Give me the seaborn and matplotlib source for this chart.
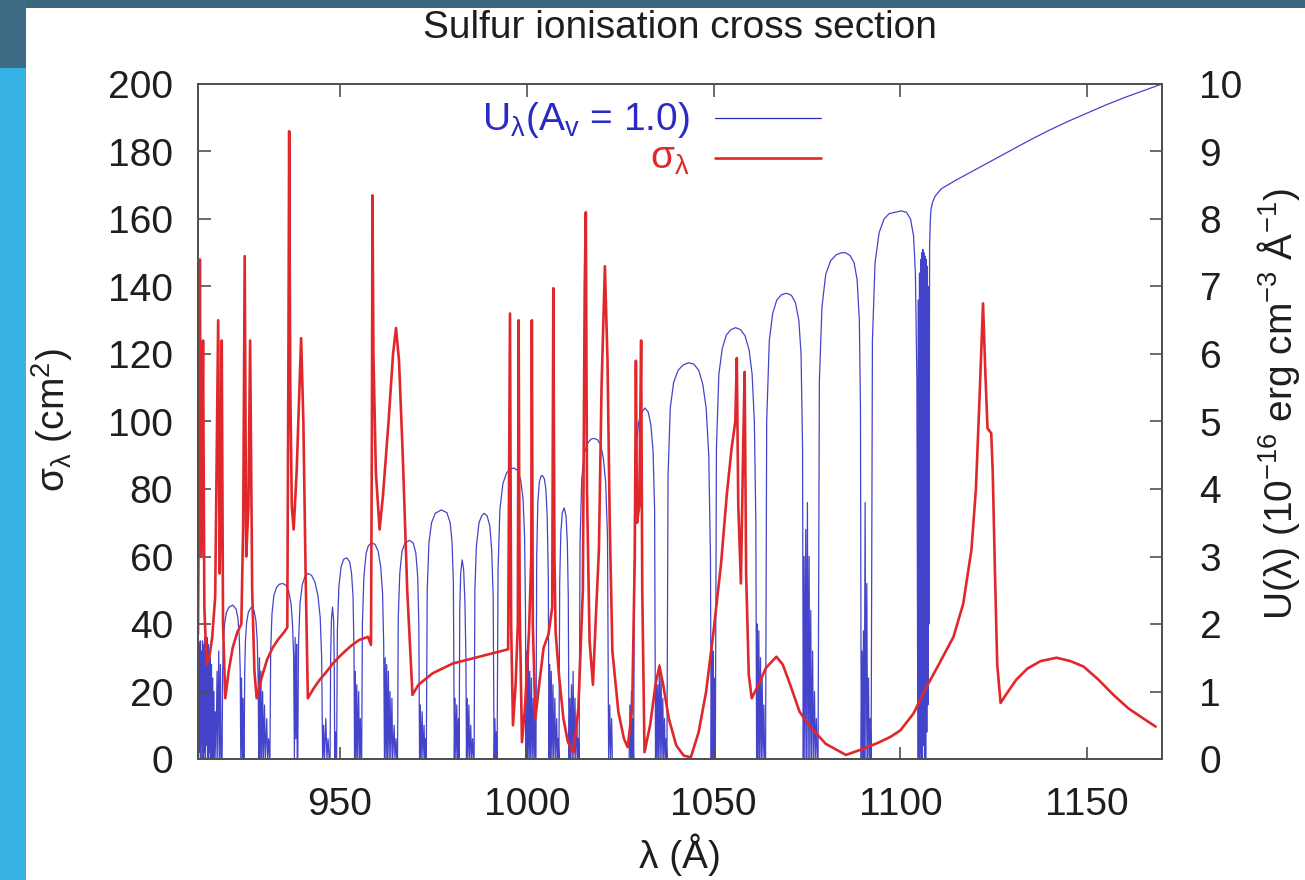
import matplotlib
matplotlib.use("Agg")
import matplotlib.pyplot as plt
from matplotlib.patches import Rectangle
import seaborn as sns

# ---------------- data ----------------
title = "Sulfur ionisation cross section"
x_ticks = [950, 1000, 1050, 1100, 1150]
sig_ticks = [0, 20, 40, 60, 80, 100, 120, 140, 160, 180, 200]
u_ticks = [0, 1, 2, 3, 4, 5, 6, 7, 8, 9, 10]

# sigma_lambda (left axis)
sig_x = [912.0, 912.3, 912.5, 912.8, 913.1, 913.35, 913.7, 914.3, 915.0, 915.8,
         916.6, 917.4, 917.8, 918.1, 918.35, 918.7, 919.3, 920.2, 921.3, 922.5,
         923.6, 924.1, 924.5, 924.9, 925.5, 925.95, 926.5, 927.1, 927.7, 929.0,
         930.5, 932.0, 933.5, 935.0, 935.9, 936.2, 936.4, 936.7, 937.1, 937.6,
         938.4, 939.0, 939.6, 940.2, 940.8, 941.4, 943.0, 944.6, 946.5, 948.1,
         950.0, 951.7, 953.5, 955.2, 957.5, 958.3, 958.55, 958.7, 958.95, 959.6,
         960.6, 961.5, 963.0, 964.2, 965.0, 965.8, 966.8, 968.0, 969.4, 971.0,
         974.8, 980.2, 987.3, 995.0, 995.3, 995.5, 995.8, 996.3, 997.0, 997.6,
         997.8, 998.1, 998.7, 999.5, 1000.6, 1001.2, 1001.35, 1001.6, 1002.3, 1003.3,
         1004.5, 1005.8, 1006.8, 1007.1, 1007.4, 1007.7, 1008.6, 1009.8, 1011.0, 1012.5,
         1013.8, 1015.0, 1015.5, 1015.8, 1016.1, 1016.8, 1017.7, 1018.6, 1019.3, 1020.0,
         1020.9, 1021.6, 1022.2, 1022.9, 1024.5, 1026.0, 1027.0, 1028.2, 1028.9, 1029.2,
         1029.5, 1030.1, 1030.6, 1030.9, 1031.5, 1033.0, 1034.5, 1035.5, 1036.5, 1038.0,
         1040.0, 1042.0, 1043.9, 1046.0, 1048.0, 1050.0, 1052.0, 1053.5, 1054.8, 1055.8,
         1056.2, 1056.6, 1057.3, 1057.9, 1058.3, 1058.7, 1059.4, 1060.2, 1062.0, 1064.0,
         1066.8, 1068.5, 1070.5, 1073.0, 1075.8, 1080.0, 1085.4, 1090.0, 1094.0, 1097.4,
         1100.0, 1103.5, 1107.0, 1110.5, 1114.2, 1116.8, 1119.0, 1120.2, 1121.2, 1122.1,
         1122.7, 1123.3, 1124.3, 1124.7, 1125.3, 1125.9, 1126.8, 1128.5, 1131.0, 1134.0,
         1137.5, 1141.8, 1145.5, 1149.0, 1153.0, 1157.0, 1161.0, 1165.0, 1168.3]
sig_y = [37, 90, 148, 60, 90, 124, 45, 28, 30, 36,
         48, 130, 55, 80, 124, 40, 18, 26, 33, 37.5,
         40, 70, 149, 60, 75, 124, 50, 26, 18, 24,
         29.5, 33, 35.5, 37.5, 39, 120, 186, 110, 75, 68,
         85, 105, 124.7, 100, 55, 18, 21, 23.5, 26, 28.3,
         30.5, 32.3, 34, 35.3, 36.2, 33.8, 100, 167, 120, 85,
         68, 78, 100, 120, 127.7, 118, 90, 50, 19, 22,
         25.4, 28.3, 30.3, 32.5, 90, 132, 40, 10, 22, 40,
         130, 45, 5, 15, 38, 60, 130, 40, 12, 22,
         33, 37, 45, 139.5, 60, 37.7, 25, 12, 5, 2,
         15, 50, 140, 162, 80, 35, 22, 45, 62, 110,
         146, 118, 70, 32, 14, 6, 3.5, 15, 60, 118,
         70, 75, 124, 50, 2, 10, 22.5, 27.5, 22, 12,
         4, 1, 0.5, 8, 20, 38, 58, 78, 92, 100,
         118.8, 75, 52, 92, 114.7, 55, 25, 18, 22, 27,
         30.3, 28, 22, 14, 9.6, 4.5, 1.2, 3.0, 4.8, 6.6,
         8.5, 13.5, 21.4, 28.5, 36.2, 46, 62, 80, 108, 135,
         115, 98, 96.5, 85, 55, 28, 16.6, 19.5, 23.5, 26.8,
         29, 30, 29, 27.4, 23.5, 19, 15, 12, 9.6]

# U_lambda (right axis), one line per stretch of the spectrum
u_x = [
    912.0, 912.15, 912.3, 912.45, 912.6, 912.75, 912.9, 913.05, 913.2, 913.35,
    913.5, 913.65, 913.8, 913.95, 914.1, 914.25, 914.4, 914.55, 914.7, 914.85,
    915.0, 915.15, 915.3, 915.45, 915.6, 915.75, 915.9, 916.05, 916.2, 916.35,
    916.6, 916.8, 917.1, 917.3, 917.55, 917.8, 918.0, 918.2,
    918.45, 918.6, 918.8, 919.1, 919.6, 920.3, 921.3, 922.2, 922.7, 923.05, 923.3, 923.45,
    923.65, 923.85, 924.05, 924.2,
    924.35, 924.5, 924.7, 925.0, 925.5, 926.3, 927.0, 927.5, 927.85, 928.1, 928.25,
    928.45, 928.65, 928.85, 929.05, 929.3, 929.5, 929.8, 930.0, 930.4, 930.6, 930.9, 931.1,
    931.25, 931.45, 931.8, 932.3, 933.0, 933.8, 934.7, 935.6, 936.3, 936.9, 937.3, 937.6, 937.8,
    938.0, 938.2, 938.4, 938.55,
    938.7, 938.9, 939.3, 939.9, 940.6, 941.4, 942.4, 943.3, 944.1, 944.7, 945.1, 945.35,
    945.6, 945.85, 946.2, 946.5, 946.8, 947.1,
    947.35, 947.5, 947.7, 948.0, 948.3, 948.45, 948.6,
    948.8, 948.95,
    949.1, 949.3, 949.7, 950.3, 951.0, 951.8, 952.6, 953.1, 953.5, 953.75, 953.9,
    954.1, 954.3, 954.5, 954.7, 955.0, 955.2, 955.45, 955.6,
    955.8, 956.0, 956.4, 957.0, 957.6, 958.4, 959.4, 960.2, 960.9, 961.4, 961.7, 961.9,
    962.1, 962.3, 962.5, 962.7, 962.95, 963.15, 963.4, 963.6, 963.9, 964.1, 964.5, 964.7, 965.0, 965.2,
    965.4, 965.6, 966.0, 966.6, 967.4, 968.6, 969.6, 970.3, 970.8, 971.1, 971.3,
    971.5, 971.7, 972.0, 972.2, 972.5, 972.7, 972.9,
    973.1, 973.35, 973.8, 974.5, 975.5, 977.1, 978.6, 979.5, 980.0, 980.35, 980.6,
    980.8, 981.0, 981.25, 981.45, 981.7,
    981.9, 982.05, 982.3, 982.7, 983.1, 983.45, 983.7, 983.85,
    984.05, 984.25, 984.5, 984.7, 985.0, 985.2, 985.5, 985.7,
    985.9, 986.1, 986.5, 987.2, 987.9, 988.6, 989.4, 990.1, 990.6, 991.0, 991.25,
    991.45, 991.65, 991.85,
    992.05, 992.3, 992.8, 993.6, 994.6, 995.6, 996.6, 997.6, 998.4, 999.0, 999.4, 999.65, 999.8,
    1000.0, 1000.2, 1000.4, 1000.6, 1000.8, 1001.0, 1001.25, 1001.45, 1001.7, 1001.9, 1002.15, 1002.3,
    1002.45, 1002.65, 1002.95, 1003.35, 1003.8, 1004.2, 1004.7, 1005.1, 1005.45, 1005.75, 1005.95,
    1006.15, 1006.35, 1006.55, 1006.75, 1007.0, 1007.2, 1007.5, 1007.7, 1008.0, 1008.2, 1008.4,
    1008.6, 1008.8, 1009.1, 1009.5, 1010.0, 1010.5, 1010.85, 1011.1, 1011.3,
    1011.5, 1011.7, 1011.95, 1012.15, 1012.4, 1012.6, 1012.9, 1013.1, 1013.4, 1013.6, 1013.8,
    1014.0, 1014.25, 1014.7, 1015.4, 1016.3, 1017.2, 1018.0, 1018.9, 1019.8, 1020.5, 1021.1, 1021.6, 1021.9,
    1022.2, 1022.4, 1022.7, 1022.9, 1027.4, 1027.6, 1027.8, 1028.0, 1028.2, 1028.4,
    1028.6, 1028.85, 1029.3, 1029.9, 1030.7, 1031.6, 1032.5, 1033.2, 1033.8, 1034.2, 1034.45,
    1034.65, 1034.85, 1035.05, 1035.25, 1035.5, 1035.7, 1035.95, 1036.15, 1036.4, 1036.6, 1036.85, 1037.05, 1037.3,
    1037.5, 1037.8, 1038.4, 1039.3, 1040.5, 1041.9, 1043.3, 1044.7, 1046.0, 1047.1, 1048.0, 1048.7, 1049.15, 1049.35,
    1049.55, 1049.7, 1049.85, 1050.0, 1050.15, 1050.3,
    1050.45, 1050.75, 1051.4, 1052.3, 1053.4, 1054.6, 1055.9, 1057.2, 1058.4, 1059.5, 1060.3, 1060.9, 1061.3, 1061.5,
    1061.7, 1061.9, 1062.1, 1062.3, 1062.55, 1062.75, 1063.0, 1063.2, 1063.45, 1063.65,
    1063.9, 1064.2, 1064.9, 1065.8, 1066.9, 1068.2, 1069.5, 1070.8, 1071.9, 1072.8, 1073.4, 1073.8, 1074.0,
    1074.2, 1074.4, 1074.65, 1074.85, 1075.1, 1075.3, 1075.55, 1075.75, 1076.0, 1076.2, 1076.5, 1076.7,
    1077.0, 1077.2, 1077.5, 1077.7,
    1077.95, 1078.3, 1079.0, 1080.0, 1081.3, 1082.8, 1084.2, 1085.3, 1086.5, 1087.6, 1088.4, 1089.0, 1089.3, 1089.5,
    1089.7, 1089.9, 1090.1, 1090.3, 1090.55, 1090.75, 1091.0, 1091.2, 1091.45, 1091.65, 1091.9,
    1092.15, 1092.5, 1093.2, 1094.3, 1095.6, 1097.0, 1098.6, 1100.2, 1101.6, 1102.7, 1103.5, 1104.0, 1104.4, 1104.65,
    1104.8, 1104.95, 1105.1, 1105.25, 1105.4, 1105.55, 1105.7, 1105.85, 1106.0, 1106.15,
    1106.3, 1106.45, 1106.6, 1106.75, 1106.9, 1107.05, 1107.2, 1107.35, 1107.5, 1107.65,
    1107.8, 1108.0, 1108.2, 1108.6, 1109.3, 1110.2, 1111.0, 1115.0, 1120.0, 1125.0,
    1130.0, 1135.0, 1140.0, 1145.0, 1150.0, 1155.0, 1160.0, 1165.0, 1170.0,
]
u_y = [
    1.2, 0, 1.7, 0.1, 1.75, 0, 1.6, 0.2, 1.75, 0,
    1.7, 0.1, 1.8, 0, 1.65, 0.2, 1.8, 0, 1.7, 0,
    1.6, 0.1, 1.5, 0, 1.4, 0, 1.2, 0, 1.0, 0,
    0.7, 0, 1.3, 0, 1.6, 0, 1.4, 0,
    0, 1.3, 1.75, 2.0, 2.17, 2.25, 2.28, 2.22, 2.08, 1.8, 1.3, 0,
    1.2, 0, 0.9, 0,
    0, 1.3, 1.75, 2.02, 2.18, 2.25, 2.2, 2.05, 1.75, 1.2, 0,
    1.5, 0, 1.3, 0, 1.0, 0, 0.8, 0, 0.6, 0, 0.3, 0,
    0, 1.6, 2.15, 2.42, 2.54, 2.59, 2.6, 2.57, 2.48, 2.3, 2.0, 1.5, 0,
    1.8, 0.3, 1.7, 0,
    0, 1.7, 2.3, 2.58, 2.7, 2.75, 2.72, 2.62, 2.42, 2.1, 1.5, 0,
    0.5, 0, 0.6, 0, 0.3, 0,
    0, 1.5, 2.05, 2.25, 2.05, 1.5, 0,
    0.4, 0,
    0, 1.9, 2.55, 2.85, 2.96, 2.98, 2.92, 2.75, 2.4, 1.6, 0,
    1.3, 0, 1.1, 0, 1.0, 0, 0.6, 0,
    0, 2.0, 2.7, 3.05, 3.16, 3.2, 3.18, 3.08, 2.85, 2.45, 1.7, 0,
    1.5, 0, 1.4, 0, 1.3, 0, 1.0, 0, 0.9, 0, 0.5, 0, 0.3, 0,
    0, 2.1, 2.75, 3.08, 3.2, 3.24, 3.2, 3.05, 2.7, 2.0, 0,
    0.8, 0, 0.7, 0, 0.5, 0, 0.3,
    0, 2.5, 3.2, 3.5, 3.64, 3.69, 3.65, 3.5, 3.2, 2.6, 0,
    0.9, 0, 0.8, 0, 0.6,
    0, 2.2, 2.75, 2.95, 2.8, 2.3, 1.5, 0,
    0.9, 0, 0.8, 0, 0.5, 0, 0.3, 0,
    0, 2.5, 3.15, 3.5, 3.6, 3.64, 3.6, 3.45, 3.1, 2.4, 0,
    0.6, 0, 0.4,
    0, 2.8, 3.7, 4.08, 4.24, 4.3, 4.31, 4.27, 4.12, 3.85, 3.3, 2.2, 0,
    1.6, 0, 1.5, 0, 1.3, 0, 1.2, 0, 0.9, 0, 0.6, 0,
    0, 3.0, 3.8, 4.1, 4.19, 4.2, 4.15, 4.0, 3.6, 2.7, 0,
    1.4, 0, 1.3, 0, 1.1, 0, 0.9, 0, 0.6, 0, 0.3,
    0, 2.6, 3.35, 3.65, 3.72, 3.6, 3.2, 2.4, 0,
    0.9, 0, 1.1, 0, 1.3, 0, 0.9, 0, 0.6, 0, 0.3,
    0, 3.2, 4.15, 4.53, 4.68, 4.74, 4.75, 4.73, 4.65, 4.45, 4.1, 3.3, 0,
    0.8, 0, 0.6, 0, 0, 0.8, 0, 1.0, 0, 0.6,
    0, 3.7, 4.6, 4.98, 5.13, 5.2, 5.14, 4.95, 4.55, 3.7, 0,
    1.2, 0, 1.1, 0, 1.4, 0, 1.2, 0, 0.9, 0, 0.6, 0, 0.3,
    0, 4.2, 5.2, 5.58, 5.76, 5.84, 5.87, 5.85, 5.76, 5.55, 5.2, 4.5, 3.0, 0,
    1.7, 0, 1.6, 0, 1.2, 0,
    0, 4.6, 5.7, 6.08, 6.28, 6.36, 6.39, 6.36, 6.27, 6.06, 5.7, 5.0, 3.5, 0,
    2.0, 0, 1.9, 0, 1.5, 0, 1.2, 0, 0.8, 0,
    0, 5.0, 6.2, 6.6, 6.8, 6.88, 6.9, 6.87, 6.76, 6.5, 6.0, 4.6, 0,
    3.0, 0, 3.4, 0, 3.8, 0, 3.0, 0, 2.2, 0, 1.6, 0,
    1.0, 0, 0.6, 0,
    0, 5.6, 6.7, 7.18, 7.38, 7.47, 7.5, 7.5, 7.46, 7.35, 7.1, 6.5, 5.2, 0,
    1.6, 0, 1.9, 0, 3.8, 0, 2.6, 0, 1.2, 0, 0.6,
    0, 6.2, 7.35, 7.8, 8.0, 8.08, 8.1, 8.12, 8.1, 8.0, 7.75, 7.2, 5.6, 0,
    6.8, 0, 7.2, 0.1, 7.4, 0, 7.5, 0, 7.55, 0.2,
    7.5, 0, 7.45, 0, 7.4, 0.4, 7.3, 0.8, 7.0, 2.0,
    7.6, 8.0, 8.15, 8.25, 8.34, 8.4, 8.45, 8.58, 8.73, 8.88,
    9.03, 9.18, 9.32, 9.45, 9.57, 9.69, 9.8, 9.9, 10.0,
]

legend_u = "U$_{λ}$(A$_{v}$ = 1.0)"
legend_sig = "σ$_{λ}$"
xlabel = "λ (Å)"
ylabel_left = "σ$_{λ}$ (cm$^{2}$)"
ylabel_right = "U(λ) (10$^{-16}$ erg cm$^{-3}$ Å$^{-1}$)"

# ---------------- style ----------------
sns.set_theme(style="white")
plt.rcParams["font.family"] = ["Liberation Sans", "DejaVu Sans"]
plt.rcParams["mathtext.fontset"] = "custom"
plt.rcParams["mathtext.rm"] = "Liberation Sans"
plt.rcParams["mathtext.it"] = "Liberation Sans:italic"
plt.rcParams["mathtext.default"] = "regular"

FS = 28
TXT = "#1e1e1e"
BLUE = "#2a2ac4"
RED = "#e0282c"
BORDER = "#505050"

W, H = 1305, 880
fig = plt.figure(figsize=(W / 100, H / 100), dpi=100)
fig.patch.set_facecolor("white")

# slide decoration
fig.add_artist(Rectangle((0, 1 - 8 / H), 1, 8 / H, transform=fig.transFigure,
                         facecolor="#3b6680", edgecolor="none", zorder=-5))
fig.add_artist(Rectangle((0, 1 - 68 / H), 26 / W, 68 / H, transform=fig.transFigure,
                         facecolor="#3f6c85", edgecolor="none", zorder=-5))
fig.add_artist(Rectangle((0, 0), 26 / W, 1 - 68 / H, transform=fig.transFigure,
                         facecolor="#36b2e5", edgecolor="none", zorder=-5))

L, R, T, B = 198, 1162, 84, 759
ax = fig.add_axes([L / W, 1 - B / H, (R - L) / W, (B - T) / H])
ax2 = ax.twinx()
ax.set_zorder(ax2.get_zorder() + 1)
ax.patch.set_visible(False)

sns.lineplot(x=u_x, y=u_y, ax=ax2, color=BLUE, linewidth=0.9, alpha=0.88,
             sort=False, estimator=None, legend=False)
sns.lineplot(x=sig_x, y=sig_y, ax=ax, color=RED, linewidth=1.9,
             sort=False, estimator=None, legend=False)

ax.set_xlim(912, 1170)
ax.set_ylim(0, 200)
ax2.set_ylim(0, 10)

ax.set_xticks(x_ticks)
ax.set_yticks(sig_ticks)
ax2.set_yticks(u_ticks)
ax.set_xlabel("")
ax.set_ylabel("")
ax2.set_ylabel("")

for a in (ax, ax2):
    for s in a.spines.values():
        s.set_color(BORDER)
        s.set_linewidth(1.3)
ax.tick_params(axis="x", which="both", direction="in", length=9, width=1.2,
               color=BORDER, top=True, bottom=True, labelsize=FS,
               labelcolor=TXT, pad=20)
ax.tick_params(axis="y", direction="in", length=9, width=1.2, color=BORDER,
               left=True, right=False, labelsize=FS, labelcolor=TXT, pad=18)
ax2.tick_params(axis="y", direction="in", length=9, width=1.2, color=BORDER,
                right=True, left=False, labelsize=FS, labelcolor=TXT, pad=27)
ax2.tick_params(axis="x", top=False, bottom=False)
ax.grid(False)
ax2.grid(False)

# titles and labels
fig.text(680 / W, 1 - 28 / H, title, ha="center", va="center", fontsize=FS, color=TXT)
fig.text(680 / W, 1 - 855 / H, xlabel, ha="center", va="center", fontsize=FS, color=TXT)
fig.text(52 / W, 1 - 420 / H, ylabel_left, ha="center", va="center",
         rotation=90, fontsize=FS, color=TXT)
fig.text(1278 / W, 1 - 404 / H, ylabel_right, ha="center", va="center",
         rotation=90, fontsize=FS, color=TXT)

# key
fig.text(690 / W, 1 - 130 / H, legend_u, ha="right", va="baseline",
         fontsize=FS, color=BLUE)
fig.text(690 / W, 1 - 169 / H, legend_sig, ha="right", va="baseline",
         fontsize=FS, color=RED)
fig.add_artist(plt.Line2D([715 / W, 821 / W], [1 - 118 / H, 1 - 118 / H],
                          transform=fig.transFigure, color=BLUE, linewidth=0.9))
fig.add_artist(plt.Line2D([715 / W, 821 / W], [1 - 158 / H, 1 - 158 / H],
                          transform=fig.transFigure, color=RED, linewidth=1.9))

fig.savefig("out.png", dpi=100)
